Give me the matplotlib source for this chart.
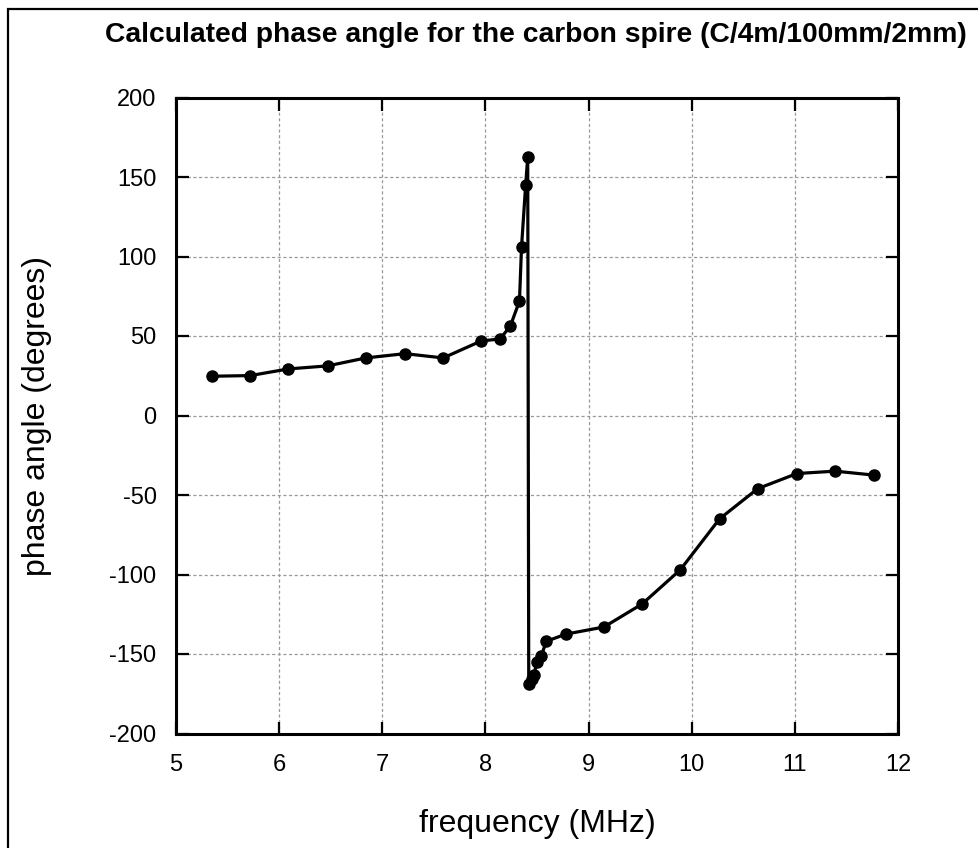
import matplotlib.pyplot as plt
from matplotlib.patches import Rectangle

# 頻率 (MHz) 與相位角 (度)
freq = [5.35, 5.72, 6.09, 6.47, 6.84, 7.22, 7.59, 7.96, 8.14, 8.24, 8.33, 8.35,
        8.39, 8.41, 8.42, 8.45, 8.47, 8.50, 8.54, 8.59, 8.78, 9.15, 9.52, 9.89,
        10.27, 10.64, 11.02, 11.39, 11.77]
phase = [24.7, 25.1, 29.3, 31.2, 36.2, 38.9, 36.2, 46.9, 48.1, 56, 72, 106,
         145, 162.5, -169, -166, -163, -155, -151.5, -142, -137.5, -133, -118.5, -97,
         -65, -46, -36.5, -35, -37.5]
xticks = [5, 6, 7, 8, 9, 10, 11, 12]
yticks = [-200, -150, -100, -50, 0, 50, 100, 150, 200]

plt.rcParams['font.family'] = ['Liberation Sans', 'DejaVu Sans']
plt.rcParams['axes.unicode_minus'] = False

fig = plt.figure(figsize=(9.79, 8.48), dpi=100)
ax = fig.add_axes([176 / 979, 1 - 733.5 / 848, (898 - 176) / 979, (733.5 - 97.5) / 848])

ax.plot(freq, phase, color='black', lw=2.3, marker='o', markersize=8, zorder=3)

ax.set_xlim(5, 12)
ax.set_ylim(-200, 200)
ax.set_xticks(xticks)
ax.set_yticks(yticks)
ax.grid(True, color='#999999', linestyle=(0, (2.5, 2)), linewidth=0.9)
ax.tick_params(direction='in', length=9, width=1.6, labelsize=17,
               top=True, right=True, pad=14)
ax.tick_params(axis='x', pad=15)
for s in ax.spines.values():
    s.set_linewidth(2.2)

ax.set_xlabel('frequency (MHz)', fontsize=23)
ax.set_ylabel('phase angle (degrees)', fontsize=23)
ax.xaxis.set_label_coords(0.5, -0.118)
ax.yaxis.set_label_coords(-0.172, 0.5)
fig.text(536 / 979, 1 - 35 / 848, 'Calculated phase angle for the carbon spire (C/4m/100mm/2mm)',
         ha='center', va='center', fontsize=20.3, fontweight='bold')

# 外框
fig.patches.append(Rectangle((8 / 979, -0.1), 1.2, 1.1 - 9 / 848, fill=False,
                             edgecolor='black', lw=1.6, transform=fig.transFigure))

plt.savefig('out.png', dpi=100)
